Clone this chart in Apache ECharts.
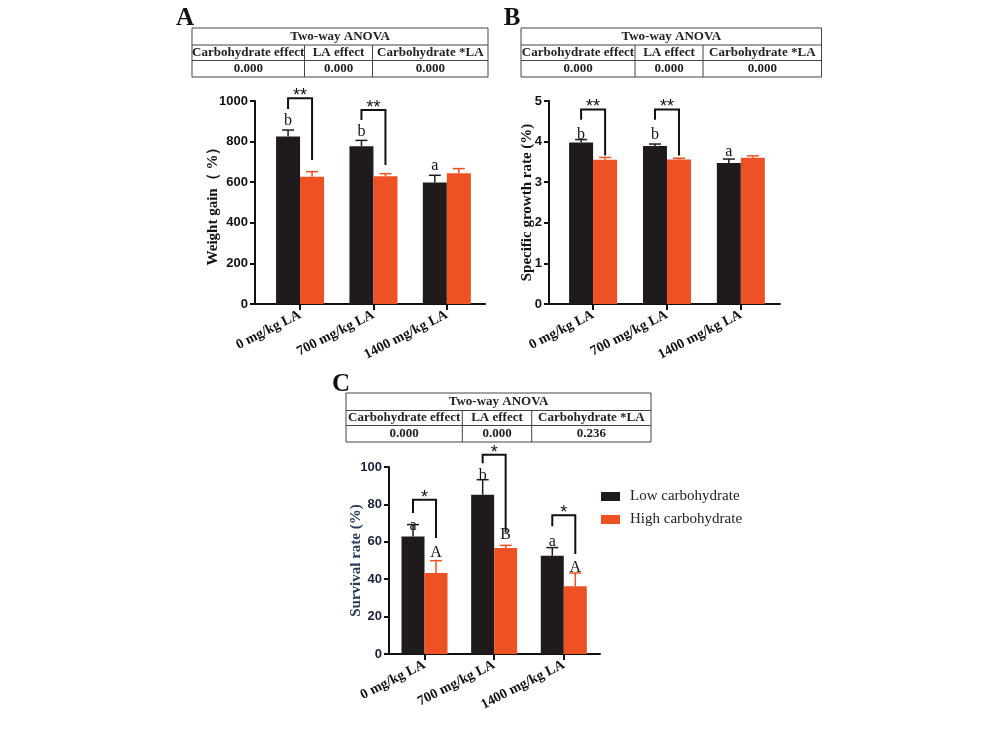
<!DOCTYPE html>
<html>
<head>
<meta charset="utf-8">
<script src="https://cdn.jsdelivr.net/npm/echarts@6/dist/echarts.min.js"></script>
<style>html,body{margin:0;padding:0;background:#fff}#c{width:998px;height:748px}</style>
</head>
<body>
<div id="c"></div>
<script>
// ---------- data ----------
const categories = ['0 mg/kg LA', '700 mg/kg LA', '1400 mg/kg LA'];
const seriesNames = ['Low carbohydrate', 'High carbohydrate'];

// Panel A: weight gain (%)
const wgLow = [825, 777, 598];
const wgLowErr = [32, 29, 36];
const wgHigh = [627, 629, 644];
const wgHighErr = [25, 13, 23];
const wgLetters = ['b', 'b', 'a'];
const wgLetterY = [901, 849, 680];
const wgBrackets = [[0, 960, 1013, 709, '**'], [1, 906, 956, 685, '**']];

// Panel B: specific growth rate (%)
const sgrLow = [3.98, 3.89, 3.47];
const sgrLowErr = [0.07, 0.05, 0.1];
const sgrHigh = [3.55, 3.56, 3.60];
const sgrHighErr = [0.06, 0.03, 0.05];
const sgrLetters = ['b', 'b', 'a'];
const sgrLetterY = [4.17, 4.16, 3.75];
const sgrBrackets = [[0, 4.54, 4.79, 3.66, '**'], [1, 4.54, 4.79, 3.66, '**']];

// Panel C: survival rate (%)
const srLow = [62.9, 85.2, 52.6];
const srLowErr = [6.3, 8.0, 4.3];
const srHigh = [43.3, 56.7, 36.2];
const srHighErr = [6.6, 1.4, 7.1];
const srLowLetters = ['a', 'b', 'a'];
const srLowLetterY = [68.3, 95.4, 60.2];
const srHighLetters = ['A', 'B', 'A'];
const srHighLetterY = [54, 63.8, 46];
const srBrackets = [[0, 75.4, 82.5, 62, '*'], [1, 102, 106.6, 65, '*'], [2, 68.3, 74.2, 53.5, '*']];

// ANOVA tables
const anovaTitle = 'Two-way ANOVA';
const anovaHeaders = ['Carbohydrate effect', 'LA effect', 'Carbohydrate *LA'];
const anovaA = ['0.000', '0.000', '0.000'];
const anovaB = ['0.000', '0.000', '0.000'];
const anovaC = ['0.000', '0.000', '0.236'];

// ---------- styles ----------
const BLACK = '#1f1b1c';
const ORANGE = '#ee5124';
const SERIF = '"Liberation Serif", "Times New Roman", serif';
const SANS = '"Liberation Sans", Arial, sans-serif';

const chart = echarts.init(document.getElementById('c'));

const panels = [
  {grid: {left: 255, top: 101, width: 230, height: 203}, xmin: -0.614, xmax: 2.52, ymax: 1000, yint: 200,
   name: 'Weight gain（ %）', nameGap: 34, bw: 24,
   low: wgLow, lowErr: wgLowErr, high: wgHigh, highErr: wgHighErr,
   letters: [[wgLetters, wgLetterY, -1]], brackets: wgBrackets, tickColor: '#111', nameColor: '#111'},
  {grid: {left: 549, top: 101, width: 231, height: 203}, xmin: -0.597, xmax: 2.53, ymax: 5, yint: 1,
   name: 'Specific growth rate (%)', nameGap: 14, bw: 24,
   low: sgrLow, lowErr: sgrLowErr, high: sgrHigh, highErr: sgrHighErr,
   letters: [[sgrLetters, sgrLetterY, -1]], brackets: sgrBrackets, tickColor: '#111', nameColor: '#111'},
  {grid: {left: 389, top: 467, width: 211, height: 187}, xmin: -0.51, xmax: 2.52, ymax: 100, yint: 20,
   name: 'Survival rate (%)', nameGap: 25, bw: 23,
   low: srLow, lowErr: srLowErr, high: srHigh, highErr: srHighErr,
   letters: [[srLowLetters, srLowLetterY, -1], [srHighLetters, srHighLetterY, 1]], brackets: srBrackets,
   tickColor: '#1b2238', nameColor: '#2c3a5c'}
];

const grids = [], xAxes = [], yAxes = [], series = [];

panels.forEach((p, k) => {
  grids.push(p.grid);
  xAxes.push({
    type: 'value', gridIndex: k, min: p.xmin, max: p.xmax,
    splitLine: {show: false},
    axisLine: {show: true, onZero: false, lineStyle: {color: '#111', width: 2}},
    axisTick: {show: true, customValues: [0, 1, 2], length: 6, lineStyle: {color: '#111', width: 2}},
    axisLabel: {
      customValues: [0, 1, 2], rotate: 27, margin: 10,
      formatter: v => categories[Math.round(v)],
      fontFamily: SERIF, fontWeight: 'bold', fontSize: 14, color: '#111'
    }
  });
  yAxes.push({
    type: 'value', gridIndex: k, min: 0, max: p.ymax, interval: p.yint,
    splitLine: {show: false},
    axisLine: {show: true, onZero: false, lineStyle: {color: '#111', width: 2}},
    axisTick: {show: true, length: 5, lineStyle: {color: '#111', width: 2}},
    axisLabel: {margin: 7, formatter: v => String(v), fontFamily: SANS, fontWeight: 'bold', fontSize: 13, color: p.tickColor},
    name: p.name, nameLocation: 'middle', nameGap: p.nameGap, nameRotate: 90, nameMoveOverlap: false,
    nameTextStyle: {fontFamily: SERIF, fontWeight: 'bold', fontSize: 15, color: p.nameColor}
  });

  const bw = p.bw;
  series.push({
    type: 'bar', name: seriesNames[0], xAxisIndex: k, yAxisIndex: k,
    data: p.low.map((v, i) => [i, v]), barWidth: bw, barGap: '0%',
    itemStyle: {color: BLACK}, z: 2
  });
  series.push({
    type: 'bar', name: seriesNames[1], xAxisIndex: k, yAxisIndex: k,
    data: p.high.map((v, i) => [i, v]), barWidth: bw, barGap: '0%',
    itemStyle: {color: ORANGE}, z: 2
  });

  // error bars (upper half)
  [[p.low, p.lowErr, -1, BLACK], [p.high, p.highErr, 1, ORANGE]].forEach(([vals, errs, side, col]) => {
    series.push({
      type: 'custom', xAxisIndex: k, yAxisIndex: k, z: 5, silent: true,
      data: vals.map((v, i) => [i, v, errs[i]]),
      renderItem: (params, api) => {
        const x = api.value(0), v = api.value(1), e = api.value(2);
        const a = api.coord([x, v]), b = api.coord([x, v + e]);
        const cx = a[0] + side * bw / 2;
        return {type: 'group', children: [
          {type: 'line', shape: {x1: cx, y1: a[1], x2: cx, y2: b[1]}, style: {stroke: col, lineWidth: 1.5}},
          {type: 'line', shape: {x1: cx - 6, y1: b[1], x2: cx + 6, y2: b[1]}, style: {stroke: col, lineWidth: 1.5}}
        ]};
      }
    });
  });

  // significance letters
  p.letters.forEach(([txts, ys, side]) => {
    series.push({
      type: 'custom', xAxisIndex: k, yAxisIndex: k, z: 6, silent: true,
      data: ys.map((y, i) => [i, y]),
      renderItem: (params, api) => {
        const c = api.coord([api.value(0), api.value(1)]);
        return {type: 'text', x: c[0] + side * bw / 2, y: c[1],
          style: {text: txts[params.dataIndex], fontFamily: SERIF, fontSize: 16, fill: '#111',
            align: 'center', verticalAlign: 'middle'}};
      }
    });
  });

  // brackets
  series.push({
    type: 'custom', xAxisIndex: k, yAxisIndex: k, z: 6, silent: true, clip: false,
    data: p.brackets.map(b => [b[0], b[1], b[2], b[3]]),
    renderItem: (params, api) => {
      const x = api.value(0);
      const l = api.coord([x, api.value(1)]);
      const t = api.coord([x, api.value(2)]);
      const r = api.coord([x, api.value(3)]);
      const xl = l[0] - bw / 2, xr = l[0] + bw / 2;
      return {type: 'group', children: [
        {type: 'polyline', shape: {points: [[xl, l[1]], [xl, t[1]], [xr, t[1]], [xr, r[1]]]},
          style: {stroke: '#111', lineWidth: 2, fill: null}},
        {type: 'text', x: (xl + xr) / 2, y: t[1] + 7,
          style: {text: p.brackets[params.dataIndex][4], fontFamily: SANS, fontSize: 18, fill: '#111',
            align: 'center', verticalAlign: 'bottom'}}
      ]};
    }
  });
});

// ---------- tables and panel letters ----------
function makeTable(x, y, colW, rowH, values) {
  const els = [];
  const W = colW.reduce((a, b) => a + b, 0);
  const H = rowH.reduce((a, b) => a + b, 0);
  const stroke = {stroke: '#444', lineWidth: 1, fill: null};
  els.push({type: 'rect', shape: {x: x, y: y, width: W, height: H}, style: Object.assign({}, stroke)});
  els.push({type: 'line', shape: {x1: x, y1: y + rowH[0], x2: x + W, y2: y + rowH[0]}, style: stroke});
  els.push({type: 'line', shape: {x1: x, y1: y + rowH[0] + rowH[1], x2: x + W, y2: y + rowH[0] + rowH[1]}, style: stroke});
  let cx = x;
  const ts = {fontFamily: SERIF, fontWeight: 'bold', fontSize: 13, fill: '#222', align: 'center', verticalAlign: 'middle'};
  els.push({type: 'text', x: x + W / 2, y: y + rowH[0] / 2, style: Object.assign({text: anovaTitle}, ts)});
  colW.forEach((w, i) => {
    if (i > 0) els.push({type: 'line', shape: {x1: cx, y1: y + rowH[0], x2: cx, y2: y + H}, style: stroke});
    els.push({type: 'text', x: cx + w / 2, y: y + rowH[0] + rowH[1] / 2, style: Object.assign({text: anovaHeaders[i]}, ts)});
    els.push({type: 'text', x: cx + w / 2, y: y + rowH[0] + rowH[1] + rowH[2] / 2, style: Object.assign({text: values[i]}, ts)});
    cx += w;
  });
  return els;
}

const letterStyle = {fontFamily: SERIF, fontWeight: 'bold', fontSize: 25, fill: '#111', align: 'center', verticalAlign: 'middle'};
const graphic = [].concat(
  makeTable(192, 28, [112.5, 68, 115.5], [17, 15.5, 16.5], anovaA),
  makeTable(521, 28, [114, 68, 118.5], [17, 15.5, 16.5], anovaB),
  makeTable(346, 393, [116.3, 69.4, 119.3], [17.5, 15, 16.5], anovaC),
  [
    {type: 'text', x: 185, y: 19, style: Object.assign({text: 'A'}, letterStyle)},
    {type: 'text', x: 512, y: 19, style: Object.assign({text: 'B'}, letterStyle)},
    {type: 'text', x: 341, y: 385, style: Object.assign({text: 'C'}, letterStyle)}
  ]
);

chart.setOption({
  animation: false,
  backgroundColor: '#fff',
  grid: grids,
  xAxis: xAxes,
  yAxis: yAxes,
  legend: {
    data: seriesNames, orient: 'vertical', left: 596, top: 484,
    icon: 'rect', itemWidth: 19, itemHeight: 9, itemGap: 8,
    textStyle: {fontFamily: SERIF, fontSize: 15, color: '#222', padding: [0, 0, 0, 5]}
  },
  graphic: graphic,
  series: series
});
</script>
</body>
</html>
